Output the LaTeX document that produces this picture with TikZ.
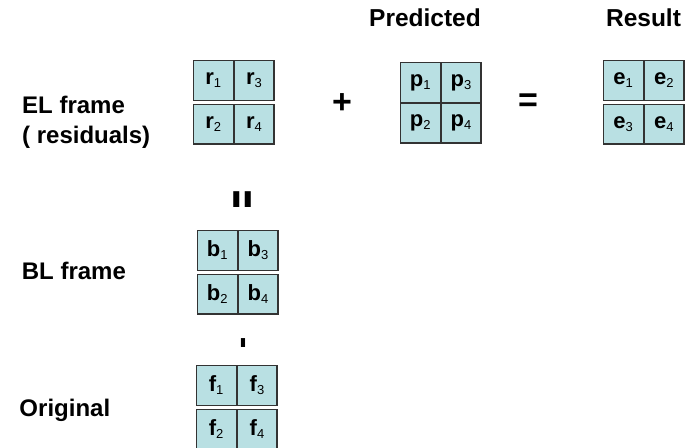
\documentclass[tikz,border=0pt]{standalone}
\usepackage{fontspec}
\setmainfont{Liberation Sans}
\usetikzlibrary{positioning}
\definecolor{cellfill}{RGB}{185,224,227}
\newcommand{\cellname}[2]{#1\textsubscript{\mdseries\fontsize{13}{13}\selectfont #2}}

\begin{document}
\begin{tikzpicture}[
  x=1pt,
  y=-1pt,
  node distance=0pt,
  framelabel/.style={
    font=\fontsize{24}{30}\selectfont\bfseries,
    align=left,
    inner sep=0pt
  },
  header/.style={
    font=\fontsize{24.5}{30}\selectfont\bfseries,
    inner sep=0pt
  },
  cell/.style={
    rectangle,
    draw=black!80,
    line width=1.3pt,
    fill=cellfill,
    minimum width=39.5pt,
    minimum height=39.5pt,
    inner sep=0pt,
    font=\fontsize{22}{24}\selectfont\bfseries
  },
  oper/.style={
    font=\fontsize{34}{34}\selectfont\bfseries,
    inner sep=0pt
  },
  vbar/.style={
    font=\bfseries,
    inner sep=0pt
  }
]
\useasboundingbox (0,0) rectangle (690,447);

\node[framelabel, anchor=west] (ellabel) at (22,122) {EL frame\\( residuals)};
\node[framelabel, anchor=base west] (bllabel) at (21.7,279.3) {BL frame};
\node[framelabel, anchor=base west] (origlabel) at (19.3,416.7) {Original};

\node[cell] (r1) at (213.4,80.4) {\cellname{r}{1}};
\node[cell, right=of r1] (r3) {\cellname{r}{3}};
\node[cell, below=3pt of r1] (r2) {\cellname{r}{2}};
\node[cell, right=of r2] (r4) {\cellname{r}{4}};

\node[oper] (plus) at (342,104) {+};

\node[cell] (p1) at (420.4,82.4) {\cellname{p}{1}};
\node[cell, right=of p1] (p3) {\cellname{p}{3}};
\node[cell, below=of p1] (p2) {\cellname{p}{2}};
\node[cell, right=of p2] (p4) {\cellname{p}{4}};
\node[header, anchor=base] (predlabel) at (425,26) {Predicted};

\node[oper] (equal) at (528,103) {=};

\node[cell] (e1) at (623.4,80.4) {\cellname{e}{1}};
\node[cell, right=of e1] (e2) {\cellname{e}{2}};
\node[cell, below=3pt of e1] (e3) {\cellname{e}{3}};
\node[cell, right=of e3] (e4) {\cellname{e}{4}};
\node[header, anchor=base] (reslabel) at (643.5,26) {Result};

\node[vbar, font=\fontsize{23}{24}\selectfont\bfseries, xscale=1.8] (bleq) at (242,200) {II};

\node[vbar, font=\fontsize{13}{14}\selectfont\bfseries, xscale=2.2] (origminus) at (243,343) {I};

\node[cell] (b1) at (217.4,250.4) {\cellname{b}{1}};
\node[cell, right=of b1] (b3) {\cellname{b}{3}};
\node[cell, below=3pt of b1] (b2) {\cellname{b}{2}};
\node[cell, right=of b2] (b4) {\cellname{b}{4}};

\node[cell] (f1) at (216.4,385.4) {\cellname{f}{1}};
\node[cell, right=of f1] (f3) {\cellname{f}{3}};
\node[cell, below=3pt of f1] (f2) {\cellname{f}{2}};
\node[cell, right=of f2] (f4) {\cellname{f}{4}};

\end{tikzpicture}
\end{document}
